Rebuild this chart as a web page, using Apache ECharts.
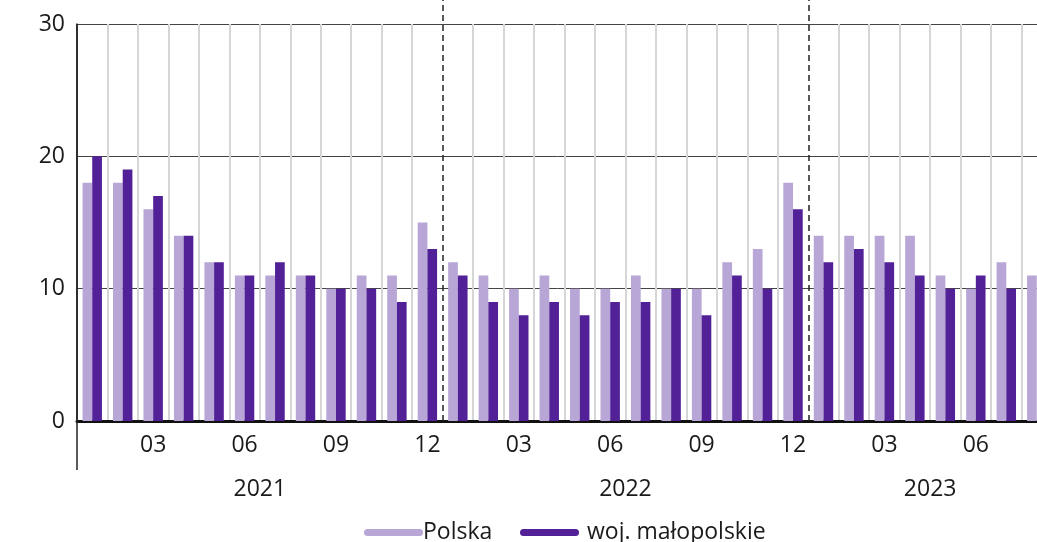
<!DOCTYPE html>
<html>
<head>
<meta charset="utf-8">
<script src="https://cdn.jsdelivr.net/npm/echarts@6/dist/echarts.min.js"></script>
<style>
html,body{margin:0;padding:0;background:#fff;}
#chart{width:1037px;height:542px;}
</style>
</head>
<body>
<div id="chart"></div>
<script>
const categories = [
  '2021-01','2021-02','2021-03','2021-04','2021-05','2021-06','2021-07','2021-08','2021-09','2021-10','2021-11','2021-12',
  '2022-01','2022-02','2022-03','2022-04','2022-05','2022-06','2022-07','2022-08','2022-09','2022-10','2022-11','2022-12',
  '2023-01','2023-02','2023-03','2023-04','2023-05','2023-06','2023-07','2023-08'
];
const polska = [18,18,16,14,12,11,11,11,10,11,11,15, 12,11,10,11,10,10,11,10,10,12,13,18, 14,14,14,14,11,10,12,11];
const malopolskie = [20,19,17,14,12,11,12,11,10,10,9,13, 11,9,8,9,8,9,9,10,8,11,10,16, 12,13,12,11,10,11,10,null];
const monthLabels = ['03','06','09','12'];
const yMin = 0, yMax = 30, yStep = 10;
const seriesNames = ['Polska','woj. małopolskie'];

const FONT = 'Open Sans';
const FS = 23;
const n = categories.length;
const years = [];
categories.forEach((c, i) => {
  const y = c.slice(0, 4);
  let e = years.find(o => o.year === y);
  if (!e) { e = {year: y, first: i, last: i}; years.push(e); }
  e.last = i;
});
const yearStarts = years.filter(y => y.first > 0).map(y => y.first);
const yearMids = years.map(y => (y.first + y.last + 1) / 2);

const legendIcon = 'path://M3.5,0 L55.5,0 A3.5,3.5 0 0 1 55.5,7 L3.5,7 A3.5,3.5 0 0 1 3.5,0 Z';
const chart = echarts.init(document.getElementById('chart'));
chart.setOption({
  animation: false,
  grid: {left: 77, top: 24, width: 975, height: 397, containLabel: false, outerBoundsMode: 'none'},
  legend: [
    {
      left: 359, top: 516, itemWidth: 59, itemHeight: 7, icon: legendIcon,
      textStyle: {fontFamily: FONT, fontSize: FS, color: '#1a1a1a', padding: [0,0,0,-5]},
      data: [seriesNames[0]]
    },
    {
      left: 515, top: 516, itemWidth: 59, itemHeight: 7, icon: legendIcon,
      textStyle: {fontFamily: FONT, fontSize: FS, color: '#1a1a1a', padding: [0,0,0,3]},
      data: [seriesNames[1]]
    }
  ],
  xAxis: [
    {
      type: 'category', data: categories, boundaryGap: true,
      axisLine: {show: true, onZero: false, lineStyle: {color: '#111', width: 3}},
      axisTick: {show: false},
      axisLabel: {
        interval: 0, margin: 13, fontFamily: FONT, fontSize: FS, color: '#1a1a1a',
        formatter: v => { const m = v.slice(5); return monthLabels.indexOf(m) >= 0 ? m : ''; }
      },
      splitLine: {show: true, interval: (i) => i % 12 !== 0, lineStyle: {color: '#d6d6d6', width: 2}}
    },
    {
      type: 'value', min: 0, max: n, position: 'bottom', offset: 49,
      axisLine: {show: false}, splitLine: {show: false},
      axisTick: {show: true, inside: true, length: 446, customValues: yearStarts,
        lineStyle: {color: '#222', width: 1.5, type: [6, 4]}},
      axisLabel: {show: true, customValues: yearMids, margin: 8, fontFamily: FONT, fontSize: FS, color: '#1a1a1a',
        formatter: v => { const y = years.find(o => (o.first + o.last + 1) / 2 === v); return y ? y.year : ''; }}
    },
    {
      type: 'value', min: 0, max: n, position: 'bottom', offset: 49,
      axisLine: {show: false}, splitLine: {show: false},
      axisTick: {show: true, inside: true, length: 446, customValues: [0], lineStyle: {color: '#222', width: 1.5}},
      axisLabel: {show: false}
    }
  ],
  yAxis: {
    type: 'value', min: yMin, max: yMax, interval: yStep,
    axisLine: {show: true, lineStyle: {color: '#222', width: 1.5}},
    axisTick: {show: false},
    axisLabel: {margin: 12, fontFamily: FONT, fontSize: FS, color: '#1a1a1a'},
    splitLine: {show: true, lineStyle: {color: '#444', width: 1}}
  },
  series: [
    {name: seriesNames[0], type: 'bar', data: polska, barWidth: 9.7, barGap: '0%',
      itemStyle: {color: '#b8a6d6'}, z: 3},
    {name: seriesNames[1], type: 'bar', data: malopolskie, barWidth: 9.7, barGap: '0%',
      itemStyle: {color: '#522197'}, z: 3}
  ]
});
</script>
</body>
</html>
